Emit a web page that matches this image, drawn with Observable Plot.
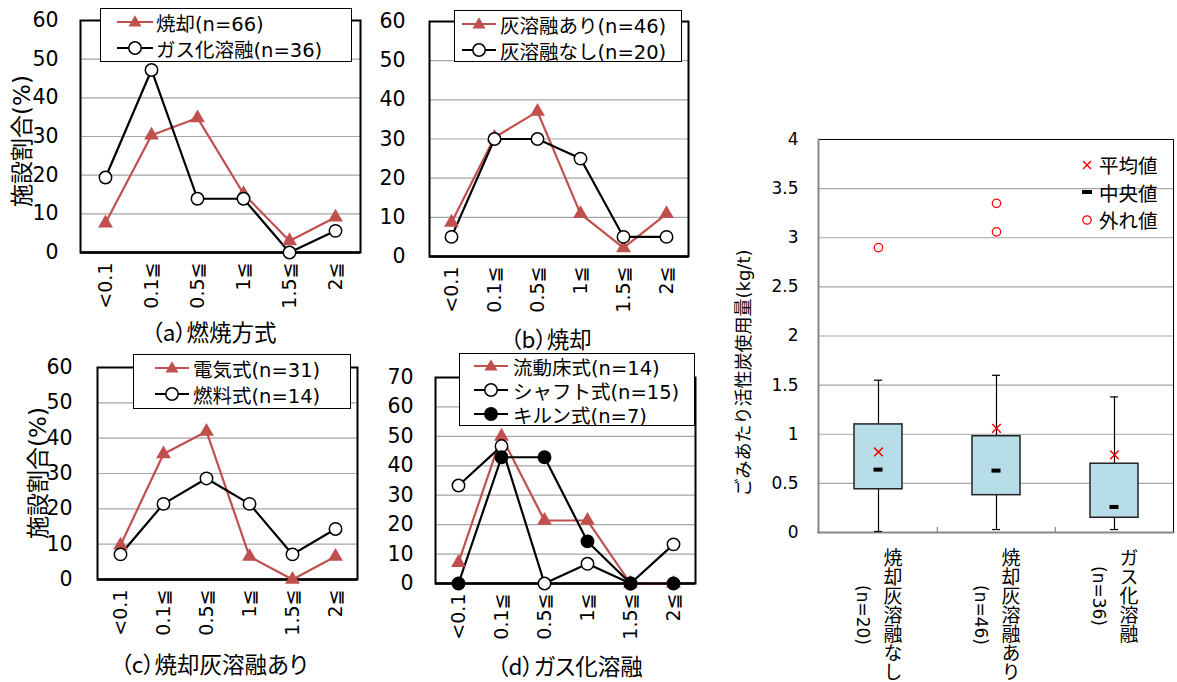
<!DOCTYPE html>
<html><head><meta charset="utf-8">
<script src="https://cdn.jsdelivr.net/npm/d3@7"></script>
<script src="https://cdn.jsdelivr.net/npm/@observablehq/plot@0.6"></script>
<style>
body{margin:0;background:#fff;}
#root{position:relative;width:1177px;height:682px;overflow:hidden;font-family:"DejaVu Sans","Noto Sans CJK JP",sans-serif;color:#000;}
.abs{position:absolute;}
.legend{position:absolute;background:#fff;border:1.5px solid #000;box-sizing:border-box;font-size:19.5px;z-index:5;}
.row{display:flex;align-items:center;white-space:nowrap;}
.lbl{position:absolute;white-space:nowrap;transform:translate(-50%,-50%);font-family:"Noto Sans CJK JP",sans-serif;font-feature-settings:"palt";}
.ylab{position:absolute;white-space:nowrap;transform:translate(-50%,-50%) rotate(-90deg);}
svg{overflow:visible;}
</style></head><body><div id="root"></div>
<script>
// ---------- data ----------
const bins = ["<0.1", "0.1≦", "0.5≦", "1≦", "1.5≦", "2≦"];

const aNames = ["焼却(n=66)", "ガス化溶融(n=36)"];
const aIncin = [7.6, 30.3, 34.8, 15.2, 3.0, 9.1];
const aGas = [19.4, 47.2, 13.9, 13.9, 0, 5.6];

const bNames = ["灰溶融あり(n=46)", "灰溶融なし(n=20)"];
const bMelt = [8.7, 30.4, 37.0, 10.9, 2.2, 10.9];
const bNoMelt = [5, 30, 30, 25, 5, 5];

const cNames = ["電気式(n=31)", "燃料式(n=14)"];
const cElec = [9.7, 35.5, 41.9, 6.5, 0, 6.5];
const cFuel = [7.1, 21.4, 28.6, 21.4, 7.1, 14.3];

const dNames = ["流動床式(n=14)", "シャフト式(n=15)", "キルン式(n=7)"];
const dFluid = [7.1, 50, 21.4, 21.4, 0, 0];
const dShaft = [33.3, 46.7, 0, 6.7, 0, 13.3];
const dKiln = [0, 42.9, 42.9, 14.3, 0, 0];

const captions = ["（a）燃焼方式", "（b）焼却", "（c）焼却灰溶融あり", "（d）ガス化溶融"];
const yLabelLine = "施設割合(%)";

const boxCats = ["焼却灰溶融なし", "焼却灰溶融あり", "ガス化溶融"];
const boxN = ["(n=20)", "(n=46)", "(n=36)"];
const boxQ1 = [0.44, 0.38, 0.15];
const boxQ3 = [1.10, 0.98, 0.70];
const boxMed = [0.64, 0.63, 0.26];
const boxMean = [0.82, 1.06, 0.79];
const boxLo = [0.01, 0.03, 0.03];
const boxHi = [1.55, 1.60, 1.38];
const outCat = ["焼却灰溶融なし", "焼却灰溶融あり", "焼却灰溶融あり"];
const outVal = [2.90, 3.35, 3.06];
const boxYLabel = "ごみあたり活性炭使用量(kg/t)";
const boxLegend = ["平均値", "中央値", "外れ値"];

// ---------- styles ----------
const RED = "#c0504d";
const FONT = '"DejaVu Sans","Noto Sans CJK JP",sans-serif';
const root = document.getElementById("root");

const styles = {
  tri: {color: RED, symbol: "triangle", fill: RED, stroke: "none", r: 5.5, sw: 0},
  open: {color: "#000", symbol: "circle", fill: "#fff", stroke: "#000", r: 6.2, sw: 1.5},
  solid: {color: "#000", symbol: "circle", fill: "#000", stroke: "#000", r: 6.2, sw: 1.5}
};

function place(el, left, top) { el.style.left = left + "px"; el.style.top = top + "px"; root.appendChild(el); }

function linePanel({series, ymax, left, top, width, height, ml, mr, mt, mb, pad}) {
  const marks = [
    Plot.gridY({ticks: d3.range(10, ymax, 10), stroke: "#a6a6a6", strokeOpacity: 1, strokeWidth: 1.2}),
    Plot.frame({stroke: "#000", strokeWidth: 2}),
    Plot.ruleY([0], {stroke: "#000", strokeWidth: 2.5}),
    Plot.axisY({ticks: d3.range(0, ymax + 1, 10), tickSize: 0, tickPadding: pad, label: null, fontSize: 20.5}),
    Plot.axisX({tickRotate: -90, tickSize: 0, tickPadding: 10, label: null, fontSize: 19})
  ];
  for (const s of series) {
    const st = styles[s.style];
    const data = s.values.map((v, i) => ({bin: bins[i], v}));
    marks.push(Plot.line(data, {x: "bin", y: "v", stroke: st.color, strokeWidth: 2.2}));
  }
  for (const s of series) {
    const st = styles[s.style];
    const data = s.values.map((v, i) => ({bin: bins[i], v}));
    marks.push(Plot.dot(data, {x: "bin", y: "v", symbol: st.symbol, r: st.r, fill: st.fill, stroke: st.stroke, strokeWidth: st.sw}));
  }
  const svg = Plot.plot({
    width, height, marginLeft: ml, marginRight: mr, marginTop: mt, marginBottom: mb,
    x: {type: "point", domain: bins, padding: 0.5},
    y: {domain: [0, ymax]},
    style: {fontSize: "19px", fontFamily: FONT, background: "transparent", color: "#000"},
    marks
  });
  svg.classList.add("abs");
  place(svg, left, top);
}

function symbolSvg(style, w) {
  const st = styles[style];
  const cx = w / 2, cy = 11;
  let m;
  if (st.symbol === "triangle") {
    const s = 13, h = s * Math.sqrt(3) / 2;
    m = `<polygon points="${cx},${cy - h * 0.6} ${cx - s / 2},${cy + h * 0.4} ${cx + s / 2},${cy + h * 0.4}" fill="${st.fill}"/>`;
  } else {
    m = `<circle cx="${cx}" cy="${cy}" r="${st.r}" fill="${st.fill}" stroke="${st.stroke}" stroke-width="1.5"/>`;
  }
  return `<svg width="${w}" height="22" style="overflow:visible"><line x1="0" x2="${w}" y1="${cy}" y2="${cy}" stroke="${st.color}" stroke-width="2.2"/>${m}</svg>`;
}

function legendBox({left, top, width, height, rowH, padTop, symLeft, symW, gap, entries}) {
  const d = document.createElement("div");
  d.className = "legend";
  d.style.width = width + "px"; d.style.height = height + "px"; d.style.paddingTop = padTop + "px";
  d.innerHTML = entries.map(e => `<div class="row" style="height:${rowH}px;padding-left:${symLeft}px">${symbolSvg(e.style, symW)}<span style="margin-left:${gap}px">${e.name}</span></div>`).join("");
  place(d, left, top);
}

function textLabel(text, cx, cy, size, cls) {
  const d = document.createElement("div");
  d.className = cls || "lbl";
  d.style.fontSize = size + "px";
  d.textContent = text;
  place(d, cx, cy);
}

// ---------- panel (a) ----------
linePanel({series: [{values: aIncin, style: "tri"}, {values: aGas, style: "open"}],
  ymax: 60, left: 0, top: 0, width: 370, height: 320, ml: 80, mr: 10, mt: 20, mb: 68, pad: 22});
legendBox({left: 100, top: 8, width: 252, height: 54, rowH: 26, padTop: 0, symLeft: 16, symW: 36, gap: 3,
  entries: [{name: aNames[0], style: "tri"}, {name: aNames[1], style: "open"}]});
textLabel(captions[0], 214, 331, 22.5);
textLabel(yLabelLine, 20, 141, 23, "ylab");

// ---------- panel (b) ----------
linePanel({series: [{values: bMelt, style: "tri"}, {values: bNoMelt, style: "open"}],
  ymax: 60, left: 375, top: 0, width: 320, height: 320, ml: 54, mr: 7, mt: 21, mb: 64, pad: 24});
legendBox({left: 454, top: 10, width: 228, height: 52, rowH: 26, padTop: 0, symLeft: 7, symW: 34, gap: 4,
  entries: [{name: bNames[0], style: "tri"}, {name: bNames[1], style: "open"}]});
textLabel(captions[1], 551, 338, 22.5);

// ---------- panel (c) ----------
linePanel({series: [{values: cElec, style: "tri"}, {values: cFuel, style: "open"}],
  ymax: 60, left: 0, top: 340, width: 370, height: 301, ml: 97, mr: 13, mt: 27, mb: 62, pad: 25});
legendBox({left: 133, top: 354, width: 218, height: 55, rowH: 26, padTop: 0, symLeft: 21, symW: 34, gap: 4,
  entries: [{name: cNames[0], style: "tri"}, {name: cNames[1], style: "open"}]});
textLabel(captions[2], 214, 663, 22.5);
textLabel(yLabelLine, 36, 473, 23, "ylab");

// ---------- panel (d) ----------
linePanel({series: [{values: dFluid, style: "tri"}, {values: dShaft, style: "open"}, {values: dKiln, style: "solid"}],
  ymax: 70, left: 375, top: 340, width: 325, height: 305, ml: 60, mr: 5, mt: 37, mb: 62, pad: 22});
legendBox({left: 459, top: 353, width: 236, height: 73, rowH: 24, padTop: 0, symLeft: 14, symW: 34, gap: 5,
  entries: [{name: dNames[0], style: "tri"}, {name: dNames[1], style: "open"}, {name: dNames[2], style: "solid"}]});
textLabel(captions[3], 570, 665, 22.5);

// ---------- box plot ----------
const boxRows = boxCats.map((c, i) => ({c, q1: boxQ1[i], q3: boxQ3[i], med: boxMed[i], mean: boxMean[i], lo: boxLo[i], hi: boxHi[i]}));
const outRows = outCat.map((c, i) => ({c, v: outVal[i]}));
const bW = 457, bML = 98, bMR = 4;
const step = (bW - bML - bMR) / boxCats.length;
const charH = 19;
const boxSvg = Plot.plot({
  width: bW, height: 562, marginLeft: bML, marginRight: bMR, marginTop: 19, marginBottom: 150,
  x: {type: "band", domain: boxCats, paddingInner: 0.594, paddingOuter: 0.297, axis: null},
  y: {domain: [0, 4]},
  style: {fontSize: "17px", fontFamily: FONT, background: "transparent", color: "#000"},
  marks: [
    Plot.gridY({ticks: d3.range(0.5, 4, 0.5), stroke: "#a6a6a6", strokeOpacity: 1, strokeWidth: 1.2}),
    Plot.frame({stroke: "#000", strokeWidth: 1}),
    Plot.frame({anchor: "left", stroke: "#888", strokeWidth: 2}),
    Plot.frame({anchor: "bottom", stroke: "#888", strokeWidth: 2}),
    Plot.axisY({ticks: d3.range(0, 4.01, 0.5), tickFormat: d => String(d), tickSize: 0, tickPadding: 20, label: null, fontSize: 17}),
    Plot.ruleX(boxCats.slice(1), {x: d => d, y1: 0, y2: 0.05, dx: -step / 2, stroke: "#888", strokeWidth: 1.2}),
    Plot.ruleX(boxRows, {x: "c", y1: "lo", y2: "hi", stroke: "#000", strokeWidth: 1.2}),
    Plot.tickY(boxRows, {x: "c", y: "hi", insetLeft: 20, insetRight: 20, stroke: "#000", strokeWidth: 1.2}),
    Plot.tickY(boxRows, {x: "c", y: "lo", insetLeft: 20, insetRight: 20, stroke: "#000", strokeWidth: 1.2}),
    Plot.barY(boxRows, {x: "c", y1: "q1", y2: "q3", fill: "#b7dde8", stroke: "#222", strokeWidth: 1.5}),
    Plot.tickY(boxRows, {x: "c", y: "med", insetLeft: 19.5, insetRight: 19.5, stroke: "#000", strokeWidth: 4}),
    Plot.dot(boxRows, {x: "c", y: "mean", symbol: "times", r: 4, stroke: "#ff0000", strokeWidth: 1.5}),
    Plot.dot(outRows, {x: "c", y: "v", r: 4.2, stroke: "#ff0000", fill: "none", strokeWidth: 1.3}),
    Plot.text(boxCats, {x: d => d, frameAnchor: "bottom", dx: 13, dy: 16, textAnchor: "start", fontSize: 19}),
    ...boxCats.map((c, i) => Plot.text([c], {x: d => d, text: () => boxN[i], frameAnchor: "bottom", dx: -16, dy: 16 + c.length * charH / 2, textAnchor: "middle", fontSize: 17}))
  ]
});
const vset = new Set([...boxCats, ...boxN]);
d3.select(boxSvg).selectAll("text").filter(function () { return vset.has(this.textContent); })
  .style("writing-mode", "vertical-rl").attr("y", null).attr("dy", null);
boxSvg.classList.add("abs");
place(boxSvg, 720, 120);
textLabel(boxYLabel, 742, 373, 18, "ylab");

// box legend
const bl = document.createElement("div");
bl.className = "abs";
bl.style.fontSize = "19.5px";
const sym = [
  `<svg width="14" height="14"><path d="M3,3L11,11M11,3L3,11" stroke="#ff0000" stroke-width="1.5"/></svg>`,
  `<svg width="14" height="14"><rect x="2" y="5" width="10" height="4" fill="#000"/></svg>`,
  `<svg width="14" height="14"><circle cx="7" cy="7" r="4.2" fill="none" stroke="#ff0000" stroke-width="1.3"/></svg>`
];
bl.innerHTML = boxLegend.map((t, i) => `<div class="row" style="height:27.5px">${sym[i]}<span style="margin-left:5px">${t}</span></div>`).join("");
place(bl, 1080, 151);
</script></body></html>
